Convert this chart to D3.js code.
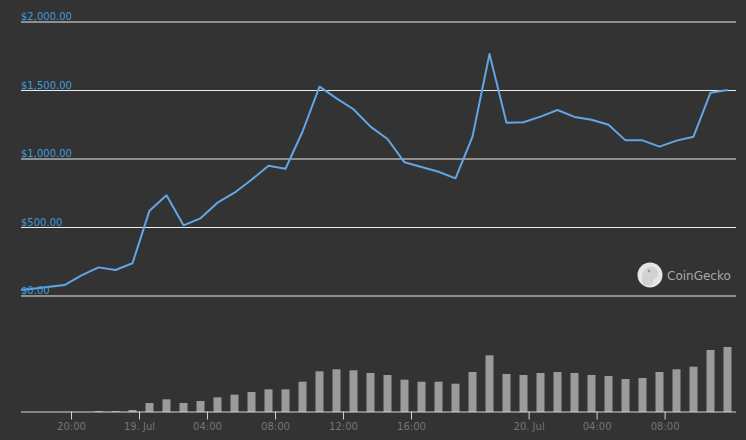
<!DOCTYPE html>
<html><head><meta charset="utf-8">
<script src="https://cdn.jsdelivr.net/npm/d3@7"></script>
<style>
html,body{margin:0;padding:0;background:#333;}
svg{display:block;}
</style></head>
<body>
<svg id="chart" width="746" height="440"></svg>
<script>
// ---- data ----
const times = [
 "2017-07-18 16:37","2017-07-18 17:37","2017-07-18 18:37","2017-07-18 19:37","2017-07-18 20:37",
 "2017-07-18 21:37","2017-07-18 22:37","2017-07-18 23:37","2017-07-19 00:37","2017-07-19 01:37",
 "2017-07-19 02:37","2017-07-19 03:37","2017-07-19 04:37","2017-07-19 05:37","2017-07-19 06:37",
 "2017-07-19 07:37","2017-07-19 08:37","2017-07-19 09:37","2017-07-19 10:37","2017-07-19 11:37",
 "2017-07-19 12:37","2017-07-19 13:37","2017-07-19 14:37","2017-07-19 15:37","2017-07-19 16:37",
 "2017-07-19 17:37","2017-07-19 18:37","2017-07-19 20:42","2017-07-19 21:42","2017-07-19 22:42",
 "2017-07-19 23:42","2017-07-20 00:42","2017-07-20 01:42","2017-07-20 02:42","2017-07-20 03:42",
 "2017-07-20 04:42","2017-07-20 05:42","2017-07-20 06:42","2017-07-20 07:42","2017-07-20 08:42",
 "2017-07-20 09:42","2017-07-20 10:42","2017-07-20 11:42"
];
const prices = [
 40, 51, 66, 80, 150, 209, 190, 239, 623, 735,
 516, 567, 681, 754, 848, 951, 929, 1199, 1528, 1443,
 1363, 1236, 1146, 976, 942, 907, 859, 1163, 1766, 1265,
 1268, 1309, 1358, 1307, 1287, 1250, 1136, 1136, 1090, 1134,
 1163, 1484, 1504
];
const volumes = [
 0, 0, 0, 0, 0, 1, 1, 2, 9, 12.7,
 9, 11, 14.7, 17.3, 20, 22.7, 22.7, 30.3, 40.7, 42.7,
 41.7, 39, 37, 32.3, 30.3, 30.3, 28.3, 40, 56.7, 38,
 37, 39, 40, 39, 37, 36, 33, 34, 40, 42.7,
 45.3, 62, 65
];
const priceTicks = [0, 500, 1000, 1500, 2000];
const timeTicks = ["2017-07-18 20:00","2017-07-19 00:00","2017-07-19 04:00","2017-07-19 08:00",
 "2017-07-19 12:00","2017-07-19 16:00","2017-07-20 00:00","2017-07-20 04:00","2017-07-20 08:00"];
const timeTickLabels = ["20:00","19. Jul","04:00","08:00","12:00","16:00","20. Jul","04:00","08:00"];

// ---- setup ----
const parse = d3.utcParse("%Y-%m-%d %H:%M");
const T = times.map(parse);
// ordinal position (index) of a time, interpolated between data points
function ordinal(t){
  const i = Math.max(0, Math.min(T.length-2, d3.bisectRight(T, t)-1));
  return i + (t - T[i])/(T[i+1]-T[i]);
}
const svg = d3.select("#chart");
const W = 746, H = 440;
const left = 21, right = 735;
const x = d3.scaleLinear().domain([0.5, T.length-0.5]).range([left+1, right+1]);
const y = d3.scaleLinear().domain([0, 2000]).range([296, 22]);
const yv = d3.scaleLinear().domain([0, 100]).range([412, 312]);

svg.append("rect").attr("width",W).attr("height",H).attr("fill","#333");

// grid lines
svg.append("g").selectAll("line").data(priceTicks).join("line")
  .attr("x1", left).attr("x2", right+1)
  .attr("y1", d=>y(d)).attr("y2", d=>y(d))
  .attr("stroke","#ececec").attr("stroke-width",1);

// clip for plot
svg.append("clipPath").attr("id","clip").append("rect")
  .attr("x", left).attr("y", 0).attr("width", right-left+1).attr("height", 420);

// volume bars
svg.append("g").attr("clip-path","url(#clip)").selectAll("rect").data(volumes).join("rect")
  .attr("x",(d,i)=>x(i)-4).attr("width",8)
  .attr("y",d=>yv(d)).attr("height",d=>yv(0)-yv(d))
  .attr("fill","#9b9b9b");

// price line
const line = d3.line().x((d,i)=>x(i)).y(d=>y(d));
svg.append("path").attr("clip-path","url(#clip)").datum(prices)
  .attr("d", line).attr("fill","none")
  .attr("stroke","#62a6e4").attr("stroke-width",2).attr("stroke-linejoin","round");

// y labels
svg.append("g").selectAll("text").data(priceTicks).join("text")
  .attr("x", left).attr("y", d=>y(d)-2)
  .attr("font-family","DejaVu Sans, sans-serif").attr("font-size","10px")
  .attr("fill","#3d9ddb")
  .text(d=>"$"+d3.format(",.2f")(d));

// x axis
const tickIdx = timeTicks.map(s=>ordinal(parse(s)));
const ax = d3.axisBottom(x).tickValues(tickIdx).tickFormat((d,i)=>timeTickLabels[i])
  .tickSizeInner(8).tickSizeOuter(0).tickPadding(3);
const gx = svg.append("g").attr("transform","translate(0,411.5)").call(ax);
gx.select(".domain").attr("d", `M${left},0.5H${right+1}`).attr("stroke","#ccd6eb");
gx.selectAll(".tick line").attr("stroke","#ccd6eb");
gx.selectAll(".tick text").attr("fill","#757575")
  .attr("font-family","DejaVu Sans, sans-serif").attr("font-size","10px");

// CoinGecko watermark
const logo = svg.append("g").attr("transform","translate(650,275)");
logo.append("circle").attr("r",12.5).attr("fill","#e6e6e6");
logo.append("path")
  .attr("d","M-7,9 C-9,2 -8,-6 -1,-8 C5,-9 8,-5 8,-1 C8,2 6,3 4,4 C3,6 3,8 2,10 C-2,11 -5,11 -7,9 Z")
  .attr("fill","#d2d2d2");
logo.append("circle").attr("cx",-1).attr("cy",-4).attr("r",1.3).attr("fill","#8a9ab8");
svg.append("text").attr("x",667).attr("y",279.5)
  .attr("font-family","DejaVu Sans, sans-serif").attr("font-size","12px")
  .attr("fill","#a8a8a8").text("CoinGecko");
</script>
</body></html>
